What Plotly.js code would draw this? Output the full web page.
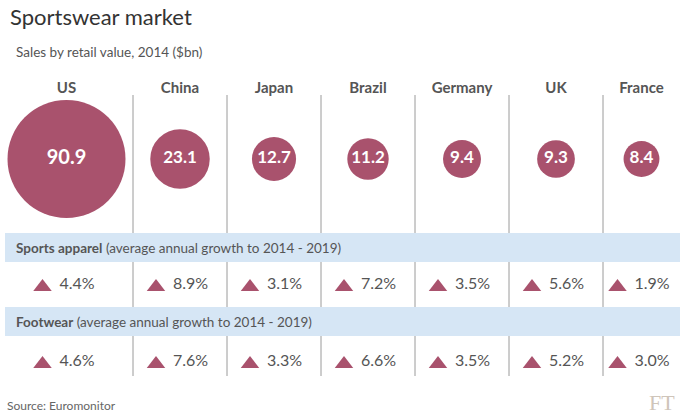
<!DOCTYPE html>
<html>
<head>
<meta charset="utf-8">
<script src="https://cdn.plot.ly/plotly-3.0.1.min.js"></script>
<style>html,body{margin:0;padding:0;background:#fff;}#chart{width:680px;height:414px;}</style>
</head>
<body>
<div id="chart"></div>
<script>
// ---- data ----
const countries = ['US', 'China', 'Japan', 'Brazil', 'Germany', 'UK', 'France'];
const sales = [90.9, 23.1, 12.7, 11.2, 9.4, 9.3, 8.4];
const apparelGrowth = [4.4, 8.9, 3.1, 7.2, 3.5, 5.6, 1.9];
const footwearGrowth = [4.6, 7.6, 3.3, 6.6, 3.5, 5.2, 3.0];

// ---- layout constants (pixel-like coordinate system) ----
const W = 680, H = 414;
const colEdges = [0, 133, 227, 321, 415, 509, 603, 680];
const centers = countries.map((c, i) => (colEdges[i] + colEdges[i + 1]) / 2);
const FONT = 'Lato, "Open Sans", sans-serif';
const GREY = '#555555';
const BUBBLE = '#a9526d';
const BAND = '#d6e6f5';
const yLabel = 89, yBubble = 159, yRow1 = 285, yRow2 = 362;
const band1 = [233, 262], band2 = [307, 336];
const maxRadius = 59;
const sizeref = Math.max(...sales) / (2 * maxRadius * maxRadius);

const fmtPct = v => v.toFixed(1) + '%';

const traces = [
  { // country labels
    type: 'scatter', mode: 'text', x: centers, y: centers.map(() => yLabel),
    text: countries.map(c => '<b>' + c + '</b>'), textposition: 'middle center',
    textfont: { family: FONT, size: 15, color: GREY }, hoverinfo: 'skip'
  },
  { // bubbles
    type: 'scatter', mode: 'markers+text', x: centers, y: centers.map(() => yBubble),
    marker: { size: sales, sizemode: 'area', sizeref: sizeref, color: BUBBLE, opacity: 1, line: { width: 0 } },
    text: sales.map(v => '<b>' + v.toFixed(1) + '</b>'), textposition: 'middle center',
    textfont: { family: FONT, size: sales.map((v, i) => i === 0 ? 20 : 17), color: '#ffffff' },
    hoverinfo: 'skip'
  }
];

[[apparelGrowth, yRow1], [footwearGrowth, yRow2]].forEach(([vals, y]) => {
  traces.push({
    type: 'scatter', mode: 'markers', x: centers.map(c => c - 24), y: vals.map(() => y + 2),
    marker: { symbol: 'triangle-up', size: 16, color: BUBBLE, opacity: 1 }, hoverinfo: 'skip'
  });
  traces.push({
    type: 'scatter', mode: 'text', x: centers.map(c => c - 7), y: vals.map(() => y),
    text: vals.map(fmtPct), textposition: 'middle right',
    textfont: { family: FONT, size: 16, color: GREY }, hoverinfo: 'skip'
  });
});

const shapes = [];
[band1, band2].forEach(b => shapes.push({
  type: 'rect', xref: 'x', yref: 'y', x0: 5, x1: W, y0: b[0], y1: b[1],
  fillcolor: BAND, line: { width: 0 }, layer: 'below'
}));
const segs = [[95, band1[0]], [band1[1], band2[0]], [band2[1], 376]];
colEdges.slice(1, -1).forEach(x => segs.forEach(s => shapes.push({
  type: 'line', xref: 'x', yref: 'y', x0: x, x1: x, y0: s[0], y1: s[1],
  line: { color: '#9a9a9a', width: 1 }
})));

const annotations = [
  { text: 'Sales by retail value, 2014 ($bn)', x: 14, y: 52, xanchor: 'left', yanchor: 'middle',
    showarrow: false, font: { family: FONT, size: 13.5, color: GREY } },
  { text: '<b>Sports apparel</b> (average annual growth to 2014 - 2019)', x: 14, y: (band1[0] + band1[1]) / 2,
    xanchor: 'left', yanchor: 'middle', showarrow: false, font: { family: FONT, size: 13.5, color: GREY } },
  { text: '<b>Footwear</b> (average annual growth to 2014 - 2019)', x: 14, y: (band2[0] + band2[1]) / 2,
    xanchor: 'left', yanchor: 'middle', showarrow: false, font: { family: FONT, size: 13.5, color: GREY } },
  { text: 'Source: Euromonitor', x: 5, y: 405, xanchor: 'left', yanchor: 'middle',
    showarrow: false, font: { family: FONT, size: 12, color: '#666666' } },
  { text: 'FT', x: 677, y: 402, xanchor: 'right', yanchor: 'middle',
    showarrow: false, font: { family: '"Liberation Serif", "DejaVu Serif", serif', size: 22, color: '#cfc5ba' } }
];

const layout = {
  width: W, height: H, margin: { l: 0, r: 0, t: 0, b: 0 },
  paper_bgcolor: '#ffffff', plot_bgcolor: '#ffffff', showlegend: false,
  title: { text: 'Sportswear market', x: 10 / W, xanchor: 'left', y: 1 - 17 / H, yanchor: 'middle',
    font: { family: FONT, size: 22, color: '#333333' } },
  xaxis: { range: [0, W], visible: false, fixedrange: true },
  yaxis: { range: [H, 0], visible: false, fixedrange: true },
  shapes: shapes, annotations: annotations
};

Plotly.newPlot('chart', traces, layout, { staticPlot: true, displayModeBar: false });
</script>
</body>
</html>
